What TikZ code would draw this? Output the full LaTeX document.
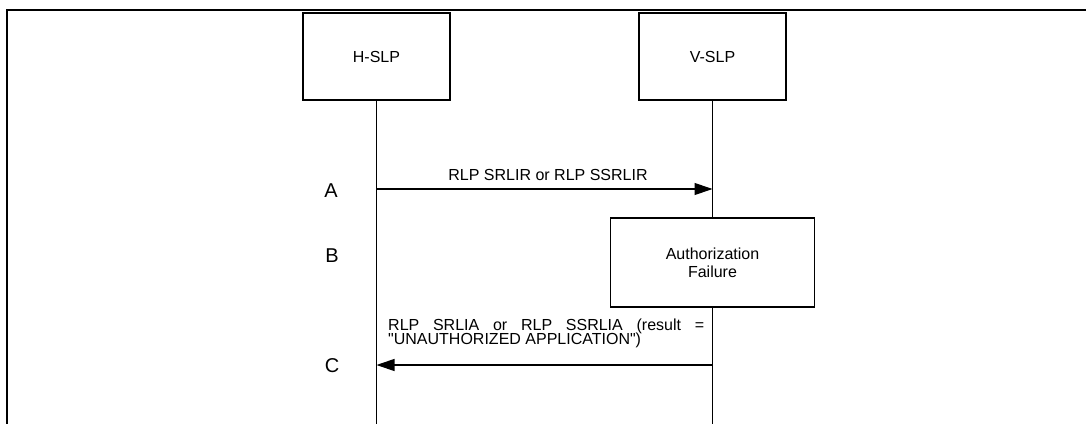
\documentclass[tikz,border=0pt]{standalone}
\usepackage{fontspec}
\setmainfont{Liberation Sans}
\newfontfamily\arialfont{Liberation Sans}
\usetikzlibrary{arrows.meta}
\begin{document}
\begin{tikzpicture}[x=1pt,y=-1pt,
  entity/.style={draw,line width=1.1pt,minimum width=147pt,minimum height=87pt,inner sep=0pt,font=\arialfont\fontsize{16}{19}\selectfont},
  procbox/.style={draw,line width=1.1pt,minimum width=204pt,minimum height=89pt,inner sep=0pt,align=center,font=\arialfont\fontsize{16}{18}\selectfont},
  lifeline/.style={line width=1.1pt},
  msg/.style={line width=1.1pt,-{Triangle[length=18pt,width=12pt]}},
  msgtext/.style={font=\arialfont\fontsize{16}{19}\selectfont,inner sep=0pt},
  steplabel/.style={font=\arialfont\fontsize{20}{24}\selectfont,inner sep=0pt},
  frame/.style={line width=2.8pt}]
\useasboundingbox (0,0) rectangle (1086,423);
% frame
\coordinate (fbl) at (7,424);
\coordinate (ftl) at (7,10);
\coordinate (ftr) at (1087,10);
\draw[frame] (fbl) -- (ftl) -- (ftr);
% entities
\node[entity] (hslp) at (376.5,56.5) {H-SLP};
\node[entity] (vslp) at (712.5,56.5) {V-SLP};
\node[procbox] (auth) at (712.5,262.5) {Authorization\\Failure};
% lifeline ends
\coordinate (hend) at (376.5,424);
\coordinate (vend) at (712.5,424);
\draw[lifeline] (hslp.south) -- (hend);
\draw[lifeline] (vslp.south) -- (auth.north);
\draw[lifeline] (auth.south) -- (vend);
% message A
\coordinate (a1) at (376.5,189);
\coordinate (a2) at (712.5,189);
\draw[msg] (a1) -- (a2);
\node[msgtext,anchor=base] (ta) at (548,180) {RLP SRLIR or RLP SSRLIR};
% message C
\coordinate (c1) at (712.5,365);
\coordinate (c2) at (376.5,365);
\draw[msg] (c1) -- (c2);
\node[msgtext,anchor=base west] (tc1) at (388,330) {\makebox[316pt][s]{RLP SRLIA or RLP SSRLIA (result =}};
\node[msgtext,anchor=base west] (tc2) at (388,344) {"UNAUTHORIZED APPLICATION")};
% step labels
\node[steplabel] (la) at (331,190.5) {A};
\node[steplabel] (lb) at (332,255.5) {B};
\node[steplabel] (lc) at (332,366) {C};
\end{tikzpicture}
\end{document}
